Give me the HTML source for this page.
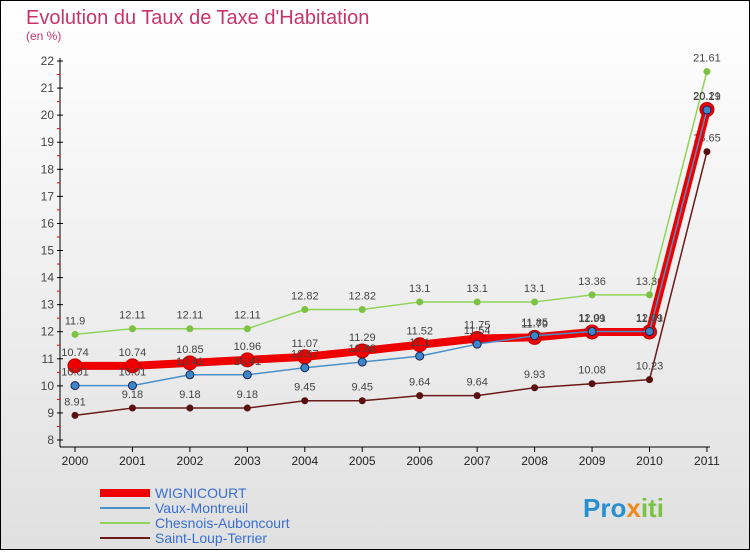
<!DOCTYPE html>
<html><head><meta charset="utf-8"><style>
body{margin:0}
svg text{font-family:"Liberation Sans",sans-serif}
</style></head><body>
<svg id="c" width="750" height="550" xmlns="http://www.w3.org/2000/svg">
<defs><linearGradient id="bg" x1="0" y1="0" x2="0" y2="1"><stop offset="0" stop-color="#ffffff"/><stop offset="1" stop-color="#e0e0e0"/></linearGradient></defs>
<rect x="0.5" y="0.5" width="749" height="549" fill="url(#bg)" stroke="#000"/>
<text x="26" y="24" font-size="20" fill="#c8346a">Evolution du Taux de Taxe d'Habitation</text>
<text x="26" y="40" font-size="12" fill="#c8346a">(en %)</text>
<g id="axes"></g><g id="series"></g><g id="legend"></g>
<text x="583" y="517" font-size="26" font-weight="bold" fill="#2a8fd0">Pro<tspan fill="#f08a1c">x</tspan><tspan fill="#7cc242">iti</tspan></text>
</svg>
<script>
const years=["2000","2001","2002","2003","2004","2005","2006","2007","2008","2009","2010","2011"];
const yTicks=[8,9,10,11,12,13,14,15,16,17,18,19,20,21,22];
const wignicourt=[10.74,10.74,10.85,10.96,11.07,11.29,11.52,11.75,11.79,11.99,11.99,20.21];
const vaux=[10.01,10.01,10.41,10.41,10.67,10.88,11.1,11.54,11.85,12.01,12.01,20.19];
const chesnois=[11.9,12.11,12.11,12.11,12.82,12.82,13.1,13.1,13.1,13.36,13.36,21.61];
const saintLoup=[8.91,9.18,9.18,9.18,9.45,9.45,9.64,9.64,9.93,10.08,10.23,18.65];
const NS="http://www.w3.org/2000/svg";
const X=i=>75+i*57.45, Y=v=>440-(v-8)*27.07;
function mk(t,a,p){const e=document.createElementNS(NS,t);for(const k in a)e.setAttribute(k,a[k]);p.appendChild(e);return e;}
const ax=document.getElementById('axes');
let l=mk('line',{x1:60,y1:58,x2:60,y2:447,stroke:'#000'},ax);

l=mk('line',{x1:60,y1:447,x2:710,y2:447,stroke:'#000'},ax);

yTicks.forEach(v=>{mk('line',{x1:57,y1:Y(v),x2:63,y2:Y(v),stroke:'#000'},ax);
 if(v<22)mk('line',{x1:57,y1:Y(v+0.5),x2:60,y2:Y(v+0.5),stroke:'#e00'},ax);
 const t=mk('text',{x:54,y:Y(v)+4,'font-size':12,'text-anchor':'end',fill:'#444'},ax);t.textContent=v;
 });
years.forEach((y,i)=>{mk('line',{x1:X(i),y1:447,x2:X(i),y2:452,stroke:'#000'},ax);
 const t=mk('text',{x:X(i),y:465,'font-size':12,'text-anchor':'middle',fill:'#222'},ax);t.textContent=y;
 });
const S=[
 {n:'saint-loup',d:saintLoup,c:'#6b1a1a',w:1.5,r:3.5,f:'#5a1010',s:null},
 {n:'chesnois',d:chesnois,c:'#8fd45a',w:1.5,r:3.5,f:'#7cc242',s:null},
 {n:'wignicourt',d:wignicourt,c:'#ee0000',w:8,r:7,f:'#ee0000',s:'#b00'},
 {n:'vaux',d:vaux,c:'#4a90c8',w:1.5,r:4,f:'#3a88c8',s:'#225'}];
const sg=document.getElementById('series');
S.forEach(s=>{const g=mk('g',{},sg);
 const p=mk('polyline',{points:s.d.map((v,i)=>X(i)+','+Y(v)).join(' '),fill:'none',stroke:s.c,'stroke-width':s.w,'stroke-linejoin':'round'},g);
 
 s.d.forEach((v,i)=>{const c=mk('circle',{cx:X(i),cy:Y(v),r:s.r,fill:s.f,stroke:s.s||'none','stroke-width':1},g);
  
  const t=mk('text',{x:X(i),y:Y(v)-10,'font-size':11,'text-anchor':'middle',fill:'#444'},g);t.textContent=v;
  });});
const lg=document.getElementById('legend');
[['WIGNICOURT','#ee0000',8],['Vaux-Montreuil','#4a90c8',2],['Chesnois-Auboncourt','#8fd45a',2],['Saint-Loup-Terrier','#6b1a1a',2]].forEach((e,i)=>{
 const y=493+i*15;const g=mk('g',{},lg);
 mk('line',{x1:100,y1:y,x2:150,y2:y,stroke:e[1],'stroke-width':e[2]},g);
 const t=mk('text',{x:155,y:y+5,'font-size':14,fill:'#3a6fd0'},g);t.textContent=e[0];
 });
</script>
</body></html>
